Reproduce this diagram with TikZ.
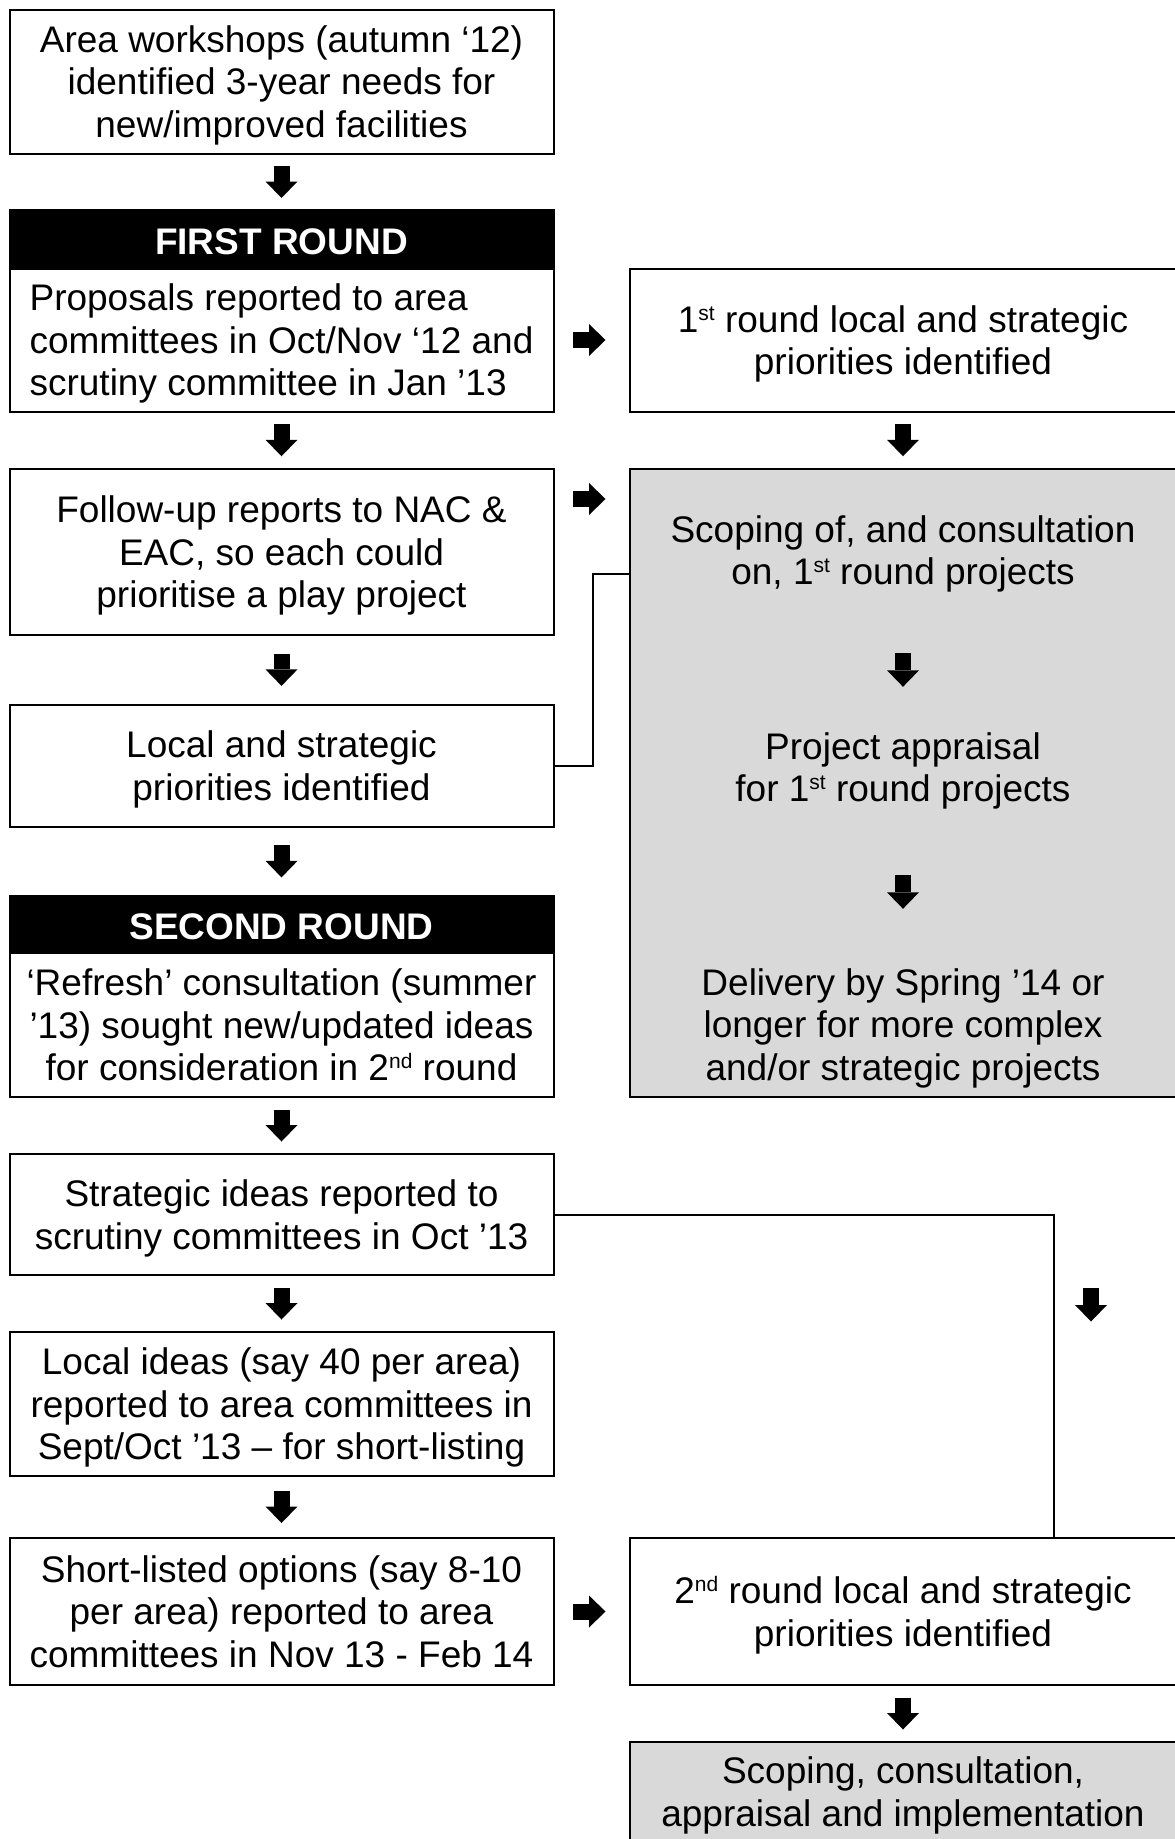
\documentclass[tikz,border=0pt]{standalone}
\usepackage{fontspec}
\setmainfont{Liberation Sans}
\usetikzlibrary{arrows.meta,calc}
\definecolor{boxgrey}{RGB}{217,217,217}
\newcommand\bodyfs{\fontsize{37}{42.5}\selectfont}
\newcommand\sups[1]{\raisebox{12pt}{\fontsize{21}{21}\selectfont #1}}
\newcommand\tls{\rule{0pt}{34.5pt}}
\newcommand\bls{\rule[-7.8pt]{0pt}{0pt}}
\begin{document}
\begin{tikzpicture}[x=1pt,y=-1pt,
  box/.style={draw=black,line width=2pt,fill=white,align=center,inner sep=0pt,font=\bodyfs},
  hdr/.style={draw=black,line width=2pt,fill=black,text=white,inner sep=0pt,font=\bodyfs\bfseries,text height=31pt,text depth=0pt},
  greybox/.style={draw=black,line width=2pt,fill=boxgrey,inner sep=0pt,align=center,font=\bodyfs},
  gtext/.style={align=center,inner sep=0pt,font=\bodyfs},
  conn/.style={draw=black,line width=2pt,line join=miter},
  barrow/.style={line width=16pt,-{Triangle[length=16.5pt,width=32pt,line width=0pt]}},
  gaps/.style 2 args={shorten <=#1pt,shorten >=#2pt}]
\useasboundingbox (0,0) rectangle (1175,1839);

% left column
\node[box,minimum width=544,minimum height=144] (b1) at (281.5,81.5)
  {\tls Area workshops (autumn ‘12)\\identified 3-year needs for\\new/improved facilities\bls};
\node[hdr,minimum width=544,minimum height=58.5] (fr) at (281.5,239.25) {FIRST ROUND};
\node[box,align=left,minimum width=544,minimum height=143] (prop) at (281.5,340)
  {\tls Proposals reported to area\\committees in Oct/Nov ‘12 and\\scrutiny committee in Jan ’13\bls};
\node[box,minimum width=544,minimum height=166] (fu) at (281.5,552)
  {\tls Follow-up reports to NAC \&\\EAC, so each could\\prioritise a play project\bls};
\node[box,minimum width=544,minimum height=122] (loc) at (281.5,765.75)
  {\tls Local and strategic\\priorities identified\bls};
\node[hdr,minimum width=544,minimum height=56.5] (sr) at (281.5,924.25) {SECOND ROUND};
\node[box,minimum width=544,minimum height=144.5] (ref) at (281.5,1024.75)
  {\tls ‘Refresh’ consultation (summer\\’13) sought new/updated ideas\\for consideration in 2\sups{nd} round\bls};
\node[box,minimum width=544,minimum height=121] (strat) at (281.5,1214.5)
  {\tls Strategic ideas reported to\\scrutiny committees in Oct ’13\bls};
\node[box,minimum width=544,minimum height=144] (li) at (281.5,1404)
  {\tls Local ideas (say 40 per area)\\reported to area committees in\\Sept/Oct ’13 – for short-listing\bls};
\node[box,minimum width=544,minimum height=147] (sl) at (281.5,1611.5)
  {\tls Short-listed options (say 8-10\\per area) reported to area\\committees in Nov 13 - Feb 14\bls};

% right column
\node[box,minimum width=546,minimum height=143] (r1) at (903,340)
  {\tls 1\sups{st} round local and strategic\\priorities identified\bls};
\node[greybox,minimum width=546,minimum height=628] (grey) at (903,783) {};
\node[gtext,minimum height=100] (g1) at (903,550)
  {\tls Scoping of, and consultation\\on, 1\sups{st} round projects\bls};
\node[gtext,minimum height=100] (g2) at (903,767)
  {\tls Project appraisal\\for 1\sups{st} round projects\bls};
\node[gtext,minimum height=140] (g3) at (903,1024.5)
  {\tls Delivery by Spring ’14 or\\longer for more complex\\and/or strategic projects\bls};
\node[box,minimum width=546,minimum height=147] (r2) at (903,1611.5)
  {\tls 2\sups{nd} round local and strategic\\priorities identified\bls};
\node[greybox,minimum width=546,minimum height=99] (fin) at (903,1791.5)
  {\tls Scoping, consultation,\\appraisal and implementation\bls};

% line connectors
\draw[conn] (loc.east) -- ++(38.5,0) |- ($(grey.north west)+(0,106)$);
\draw[conn] (strat.east) -| ($(r2.north west)+(425,0)$);
\coordinate (corner) at ($(strat.east)+(501.5,0)$);

% block arrows, left column
\draw[barrow,gaps={11.5}{11}] (b1.south) -- (fr.north);
\draw[barrow,gaps={11.75}{11.75}] (prop.south) -- (fu.north);
\draw[barrow,gaps={17.85}{17.85}] (fu.south) -- (loc.north);
\draw[barrow,gaps={17.6}{17.6}] (loc.south) -- (sr.north);
\draw[barrow,gaps={11.5}{11.5}] (ref.south) -- (strat.north);
\draw[barrow,gaps={11.5}{11.5}] (strat.south) -- (li.north);
\draw[barrow,gaps={14}{14}] (li.south) -- (sl.north);

% block arrows, right column
\draw[barrow,gaps={11.75}{11.75}] (r1.south) -- (grey.north);
\draw[barrow,gaps={53}{30}] (g1.south) -- (g2.north);
\draw[barrow,gaps={58}{45.5}] (g2.south) -- (g3.north);
\draw[barrow,gaps={11.5}{11.5}] (r2.south) -- (fin.north);
\draw[barrow] ($(corner)+(35,73)$) -- ++(0,34);

% block arrows, left to right
\draw[barrow,gaps={18.5}{23.5}] (prop.east) -- (r1.west);
\coordinate (fuarr) at ($(fu.north east)+(0,31)$);
\draw[barrow,gaps={18.5}{23.5}] (fuarr) -- (fuarr -| grey.west);
\draw[barrow,gaps={18.5}{23.5}] (sl.east) -- (r2.west);
\end{tikzpicture}
\end{document}
